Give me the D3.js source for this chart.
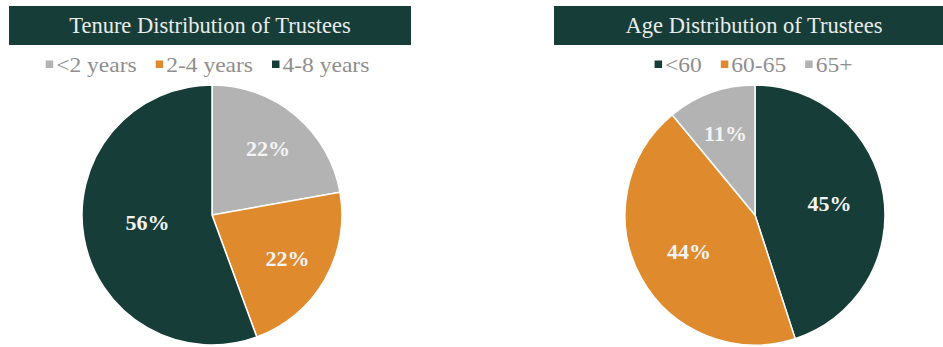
<!DOCTYPE html>
<html>
<head>
<meta charset="utf-8">
<script src="https://cdn.jsdelivr.net/npm/d3@7"></script>
<style>
  html, body { margin: 0; padding: 0; background: #ffffff; }
  svg { display: block; }
</style>
</head>
<body>
<svg id="chart" width="943" height="347"></svg>
<script>
// ---- data ----
const tenureTitle = "Tenure Distribution of Trustees";
const tenureCategories = ["<2 years", "2-4 years", "4-8 years"];
const tenureValues = [22.2, 22.2, 55.6];
const tenureLabels = ["22%", "22%", "56%"];

const ageTitle = "Age Distribution of Trustees";
const ageCategories = ["<60", "60-65", "65+"];
const ageValues = [45, 44, 11];
const ageLabels = ["45%", "44%", "11%"];

// ---- styling ----
const DARK = "#163d38";
const ORANGE = "#e08a2e";
const GRAY = "#b3b3b3";
const tenureColors = [GRAY, ORANGE, DARK];
const ageColors = [DARK, ORANGE, GRAY];

const svg = d3.select("#chart");
const serif = "'Liberation Serif', 'Times New Roman', serif";

function panel(cfg) {
  const g = svg.append("g");
  // title bar
  g.append("rect")
    .attr("x", cfg.barX0).attr("y", 6)
    .attr("width", cfg.barX1 - cfg.barX0).attr("height", 39)
    .attr("fill", DARK);
  g.append("text")
    .attr("x", cfg.titleX).attr("y", 25.5)
    .attr("text-anchor", "middle")
    .attr("dominant-baseline", "central")
    .attr("font-family", serif)
    .attr("font-size", 22.5)
    .attr("fill", "#e9ecea")
    .text(cfg.title);

  // legend
  const color = d3.scaleOrdinal().domain(cfg.categories).range(cfg.colors);
  const lg = g.append("g");
  const SX = 1.12, GAP = 19;
  let x = 0;
  cfg.categories.forEach((c, i) => {
    const item = lg.append("g").attr("transform", `translate(${x},0)`);
    item.append("rect")
      .attr("x", 0).attr("y", -3.5).attr("width", 7.5).attr("height", 7.5)
      .attr("fill", color(c));
    const t = item.append("text")
      .attr("transform", `translate(10.5,0.5) scale(${SX},1)`)
      .attr("dominant-baseline", "central")
      .attr("font-family", serif)
      .attr("font-size", 21)
      .attr("fill", "#8e8e8e")
      .text(c);
    const w = t.node().getComputedTextLength() * SX;
    x += 10.5 + w + GAP;
  });
  const totalW = x - GAP;
  lg.attr("transform", `translate(${cfg.legendCx - totalW / 2},64)`);

  // pie
  const R = 130;
  const pie = d3.pie().sort(null).value(d => d.v);
  const arcs = pie(cfg.categories.map((c, i) => ({ c, v: cfg.values[i], label: cfg.labels[i] })));
  const arc = d3.arc().innerRadius(0).outerRadius(R);
  const pg = g.append("g").attr("transform", `translate(${cfg.cx},${cfg.cy})`);
  pg.selectAll("path").data(arcs).join("path")
    .attr("d", arc)
    .attr("fill", d => color(d.data.c))
    .attr("stroke", "#ffffff")
    .attr("stroke-width", 1.5)
    .attr("stroke-linejoin", "round");
  const total = d3.sum(cfg.values);
  pg.selectAll("text").data(arcs).join("text")
    .attr("transform", d => {
      const f = d.data.v / total;
      const lr = f > 0.5 ? 0.5 * R : (f > 0.3 ? 0.58 * R : 0.67 * R);
      let a = (d.startAngle + d.endAngle) / 2;
      if (f > 0.5) a += 0.06;
      return `translate(${lr * Math.sin(a)},${-lr * Math.cos(a)})`;
    })
    .attr("text-anchor", "middle")
    .attr("dominant-baseline", "central")
    .attr("font-family", serif)
    .attr("font-weight", "bold")
    .attr("font-size", 22)
    .attr("fill", "#f4f4f4")
    .text(d => d.data.label);
}

panel({
  title: tenureTitle, categories: tenureCategories, values: tenureValues,
  labels: tenureLabels, colors: tenureColors,
  barX0: 9, barX1: 411, titleX: 210, legendCx: 207.5, cx: 212, cy: 215
});
panel({
  title: ageTitle, categories: ageCategories, values: ageValues,
  labels: ageLabels, colors: ageColors,
  barX0: 554, barX1: 943, titleX: 754, legendCx: 753.5, cx: 755, cy: 215
});
</script>
</body>
</html>
